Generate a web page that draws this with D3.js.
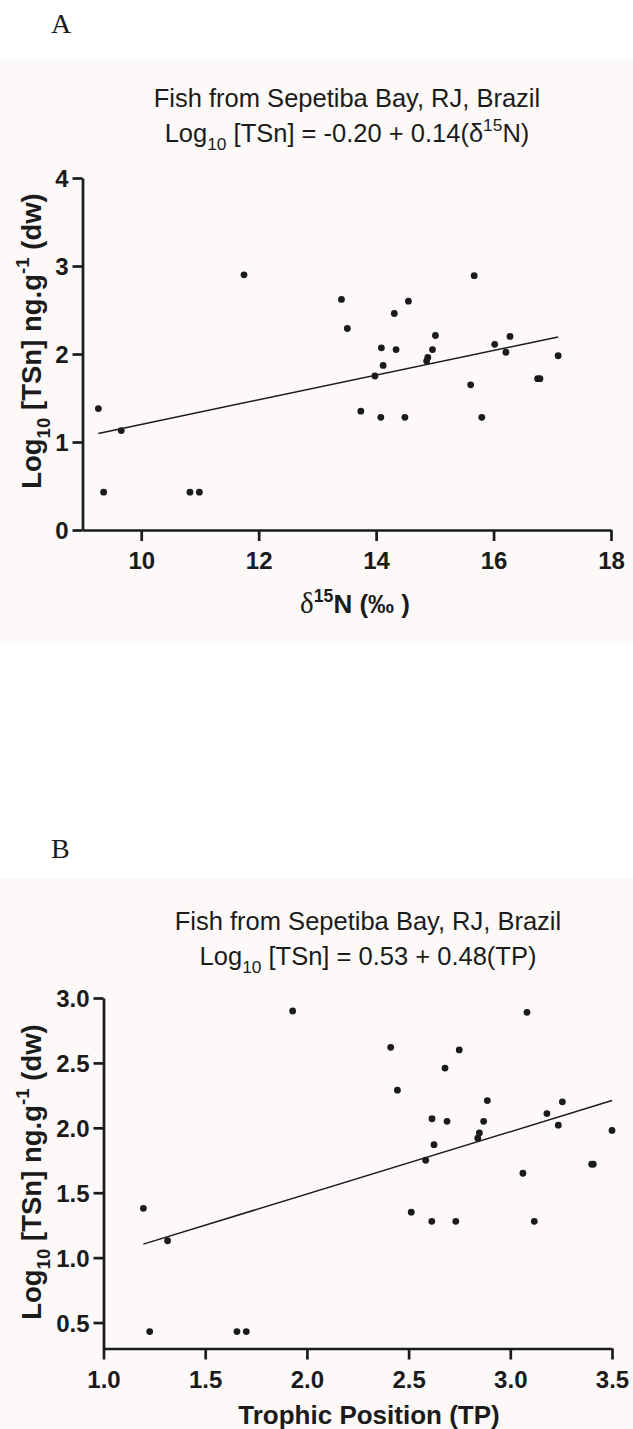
<!DOCTYPE html>
<html><head><meta charset="utf-8">
<script src="https://cdn.jsdelivr.net/npm/d3@7"></script>
<style>body{margin:0;background:#fff}svg{display:block}</style>
</head><body>
<svg id="c" width="633" height="1429"></svg>
<script>
// ---- data ----
const d15N = [9.27, 9.36, 9.66, 10.83, 10.99, 11.75, 13.41, 13.51, 13.74, 13.98,
  14.08, 14.09, 14.12, 14.31, 14.34, 14.49, 14.55, 14.86, 14.88, 14.96,
  15.01, 15.61, 15.67, 15.80, 16.02, 16.21, 16.28, 16.75, 16.79, 17.10];
const trophicPosition = [1.196, 1.227, 1.315, 1.656, 1.702, 1.93, 2.412, 2.445, 2.513, 2.584,
  2.614, 2.615, 2.625, 2.679, 2.689, 2.732, 2.749, 2.840, 2.848, 2.869,
  2.887, 3.062, 3.082, 3.118, 3.180, 3.236, 3.256, 3.400, 3.408, 3.500];
const log10TSn = [1.38, 0.43, 1.13, 0.43, 0.43, 2.90, 2.62, 2.29, 1.35, 1.75,
  1.28, 2.07, 1.87, 2.46, 2.05, 1.28, 2.60, 1.92, 1.96, 2.05,
  2.21, 1.65, 2.89, 1.28, 2.11, 2.02, 2.20, 1.72, 1.72, 1.98];
const fitA = [-0.20, 0.14];   // intercept, slope
const fitB = [0.53, 0.48];
const xTicksA = [10, 12, 14, 16, 18];
const yTicksA = [0, 1, 2, 3, 4];
const xTicksB = [1.0, 1.5, 2.0, 2.5, 3.0, 3.5];
const yTicksB = [0.5, 1.0, 1.5, 2.0, 2.5, 3.0];
const titleText = "Fish from Sepetiba Bay, RJ, Brazil";

const svg = d3.select('#c');
const SANS = "'Liberation Sans', Arial, sans-serif";
const SERIF = "'Liberation Serif', 'Times New Roman', serif";
const INK = '#1b1b1b';
const BG = '#fcf9f8';

function rich(parent, parts, fs, attrs) {
  const t = parent.append('text');
  Object.entries(attrs || {}).forEach(([k, v]) => t.attr(k, v));
  let shift = 0;
  parts.forEach(p => {
    const target = p.sub ? fs * 0.32 : p.sup ? -fs * 0.42 : 0;
    const size = p.size || ((p.sub || p.sup) ? fs * 0.68 : fs);
    const ts = t.append('tspan').text(p.t)
      .attr('dy', target - shift)
      .attr('font-size', size);
    if (p.family) ts.attr('font-family', p.family);
    if (p.weight) ts.attr('font-weight', p.weight);
    shift = target;
  });
  return t;
}

function panel(cfg) {
  const g = svg.append('g');
  g.append('rect').attr('x', 0).attr('y', cfg.bgTop).attr('width', 633)
    .attr('height', cfg.bgBottom - cfg.bgTop).attr('fill', BG);
  g.append('text').text(cfg.letter).attr('x', 51).attr('y', cfg.letterY)
    .attr('font-family', SERIF).attr('font-size', 28).attr('fill', INK);

  const x = d3.scaleLinear().domain(cfg.xDomain).range(cfg.xRange);
  const y = d3.scaleLinear().domain(cfg.yDomain).range(cfg.yRange);

  // titles
  g.append('text').text(titleText).attr('x', cfg.titleX).attr('y', cfg.titleY)
    .attr('text-anchor', 'middle').attr('font-family', SANS).attr('font-size', 25.5).attr('fill', INK);
  rich(g, cfg.eqParts, 25.5, {x: cfg.titleX, y: cfg.titleY + 35, 'text-anchor': 'middle',
    'font-family': SANS, fill: INK});

  // axes
  const xAxis = d3.axisBottom(x).tickValues(cfg.xTicks).tickSize(11).tickPadding(11)
    .tickFormat(cfg.xFmt).tickSizeOuter(0);
  const yAxis = d3.axisLeft(y).tickValues(cfg.yTicks).tickSize(10).tickPadding(4)
    .tickFormat(cfg.yFmt).tickSizeOuter(0);
  const gx = g.append('g').attr('transform', `translate(0,${cfg.yRange[0]})`).call(xAxis);
  const gy = g.append('g').attr('transform', `translate(${cfg.xRange[0]},0)`).call(yAxis);
  [gx, gy].forEach(a => {
    a.select('.domain').attr('stroke', INK).attr('stroke-width', 2.7);
    a.selectAll('.tick line').attr('stroke', INK).attr('stroke-width', 2.7);
    a.selectAll('.tick text').attr('font-family', SANS).attr('font-size', 24)
      .attr('font-weight', 'bold').attr('fill', INK);
  });
  gy.selectAll('.tick text').attr('dy', '0.36em');

  // axis titles
  rich(g, cfg.xTitleParts, 26, {x: cfg.xTitleX, y: cfg.xTitleY, 'text-anchor': 'middle',
    'font-family': SANS, 'font-weight': 'bold', fill: INK});
  rich(g, [{t: 'Log'}, {t: '10', sub: true}, {t: ' [TSn] ng.g'}, {t: '-1', sup: true}, {t: ' (dw)'}], 27.5,
    {transform: `translate(${cfg.yTitleX},${cfg.yTitleY}) rotate(-90)`, 'text-anchor': 'middle',
     'font-family': SANS, 'font-weight': 'bold', fill: INK});

  // regression line
  const xs = cfg.xs;
  const x0 = d3.min(xs), x1 = d3.max(xs);
  const line = d3.line().x(d => x(d)).y(d => y(cfg.fit[0] + cfg.fit[1] * d));
  g.append('path').attr('d', line([x0, x1])).attr('fill', 'none')
    .attr('stroke', INK).attr('stroke-width', 1.5);

  // points
  g.append('g').selectAll('circle').data(d3.range(xs.length)).join('circle')
    .attr('cx', i => x(xs[i])).attr('cy', i => y(log10TSn[i])).attr('r', 3.4).attr('fill', INK);
}

panel({
  letter: 'A', letterY: 33, bgTop: 59, bgBottom: 643,
  xDomain: [9, 18], xRange: [82.5, 611], yDomain: [0, 4], yRange: [530, 178],
  xTicks: xTicksA, yTicks: yTicksA, xFmt: d3.format('d'), yFmt: d3.format('d'),
  titleX: 347, titleY: 107,
  eqParts: [{t: 'Log'}, {t: '10', sub: true}, {t: ' [TSn] = ' + fitA[0].toFixed(2) + ' + ' + fitA[1].toFixed(2) + '(δ'},
            {t: '15', sup: true}, {t: 'N)'}],
  xTitleParts: [{t: 'δ', family: SERIF, weight: 'normal', size: 29}, {t: '15', sup: true}, {t: 'N (‰ )'}],
  xTitleX: 355, xTitleY: 613,
  yTitleX: 41, yTitleY: 341,
  xs: d15N, fit: fitA
});

panel({
  letter: 'B', letterY: 858, bgTop: 878, bgBottom: 1429,
  xDomain: [1.0, 3.5], xRange: [103.5, 612], yDomain: [0.3, 3.0], yRange: [1348.5, 998],
  xTicks: xTicksB, yTicks: yTicksB, xFmt: d3.format('.1f'), yFmt: d3.format('.1f'),
  titleX: 368, titleY: 930,
  eqParts: [{t: 'Log'}, {t: '10', sub: true}, {t: ' [TSn] = ' + fitB[0].toFixed(2) + ' + ' + fitB[1].toFixed(2) + '(TP)'}],
  xTitleParts: [{t: 'Trophic Position (TP)'}],
  xTitleX: 369, xTitleY: 1424,
  yTitleX: 41, yTitleY: 1172,
  xs: trophicPosition, fit: fitB
});
</script>
</body></html>
